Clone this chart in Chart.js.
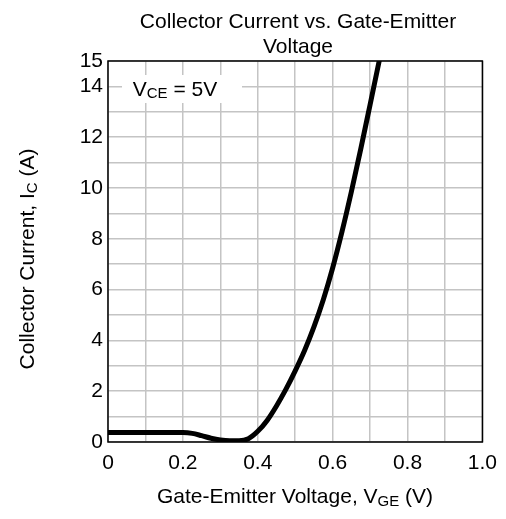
<!DOCTYPE html>
<html>
<head>
<meta charset="utf-8">
<script src="https://cdn.jsdelivr.net/npm/chart.js@4"></script>
<style>
  html, body { margin: 0; padding: 0; background: #fff; }
  #wrap { width: 506px; height: 519px; }
</style>
</head>
<body>
<div id="wrap"><canvas id="icChart" width="506" height="519"></canvas></div>
<script>
// gate-emitter voltage (V) and collector current (A)
const vge = [0, 0.05, 0.1, 0.15, 0.2, 0.225, 0.25, 0.275, 0.3, 0.325, 0.35, 0.375, 0.4, 0.425, 0.45, 0.475, 0.5, 0.525, 0.55, 0.575, 0.6, 0.625, 0.65, 0.675, 0.7, 0.725];
const ic  = [0.37, 0.37, 0.37, 0.37, 0.37, 0.34, 0.25, 0.15, 0.08, 0.05, 0.05, 0.13, 0.42, 0.85, 1.42, 2.07, 2.8, 3.6, 4.53, 5.6, 6.85, 8.28, 9.85, 11.53, 13.28, 15.05];
const xTickLabels = ['0', '0.2', '0.4', '0.6', '0.8', '1.0'];
const yTickLabels = ['0', '2', '4', '6', '8', '10', '12', '14', '15'];

const FONT = "'Liberation Sans', Arial, sans-serif";

// draws text made of [string, size, dy] pieces, centred on x
function drawParts(ctx, parts, x, y) {
  let total = 0;
  parts.forEach(p => { ctx.font = p[1] + 'px ' + FONT; total += ctx.measureText(p[0]).width; });
  let cx = x - total / 2;
  parts.forEach(p => {
    ctx.font = p[1] + 'px ' + FONT;
    ctx.fillText(p[0], cx, y + (p[2] || 0));
    cx += ctx.measureText(p[0]).width;
  });
}

const textPlugin = {
  id: 'textPlugin',
  afterDraw(chart) {
    const ctx = chart.ctx;
    const ca = chart.chartArea;
    ctx.save();
    ctx.fillStyle = '#000';
    ctx.textBaseline = 'alphabetic';
    ctx.textAlign = 'left';

    // title
    drawParts(ctx, [['Collector Current vs. Gate-Emitter', 21]], 298, 28);
    drawParts(ctx, [['Voltage', 21]], 298, 53);

    // x axis title
    drawParts(ctx, [['Gate-Emitter Voltage, V', 21], ['GE', 15, 3], [' (V)', 21]], 295, 503);

    // y axis title
    ctx.save();
    ctx.translate(34, 259);
    ctx.rotate(-Math.PI / 2);
    drawParts(ctx, [['Collector Current, I', 21], ['C', 15, 3], [' (A)', 21]], 0, 0);
    ctx.restore();

    // condition label
    ctx.fillStyle = '#fff';
    ctx.fillRect(ca.left + 14, ca.top + 14, 120, 28);
    ctx.fillStyle = '#000';
    drawParts(ctx, [['V', 21], ['CE', 15, 2], [' = 5V', 21]], ca.left + 67, ca.top + 35);

    // plot frame
    ctx.strokeStyle = '#000';
    ctx.lineWidth = 1.5;
    ctx.strokeRect(ca.left, ca.top, ca.right - ca.left, ca.bottom - ca.top);
    ctx.restore();
  }
};

const ctx = document.getElementById('icChart').getContext('2d');
new Chart(ctx, {
  type: 'line',
  data: {
    datasets: [{
      data: vge.map((v, i) => ({ x: v, y: ic[i] })),
      borderColor: '#000',
      borderWidth: 5,
      pointRadius: 0,
      fill: false,
      cubicInterpolationMode: 'monotone'
    }]
  },
  options: {
    responsive: false,
    animation: false,
    layout: { padding: { left: 0, right: 17, top: 61, bottom: 0 } },
    plugins: { legend: { display: false }, tooltip: { enabled: false }, title: { display: false } },
    scales: {
      x: {
        type: 'linear',
        min: 0,
        max: 1,
        afterFit(scale) { scale.height = 77; },
        grid: { color: '#c4c4c4', lineWidth: 1.5, drawTicks: false },
        border: { display: false },
        ticks: {
          stepSize: 0.1,
          padding: 9,
          color: '#000',
          font: { family: FONT, size: 21 },
          maxRotation: 0,
          autoSkip: false,
          callback(value) {
            const k = Math.round(value * 10);
            return k % 2 === 0 ? xTickLabels[k / 2] : '';
          }
        }
      },
      y: {
        min: 0,
        max: 15,
        afterFit(scale) { scale.width = 108; },
        grid: { color: '#c4c4c4', lineWidth: 1.5, drawTicks: false },
        border: { display: false },
        ticks: {
          stepSize: 1,
          padding: 5,
          color: '#000',
          font: { family: FONT, size: 21 },
          autoSkip: false,
          callback(value) {
            const s = String(Math.round(value));
            return yTickLabels.includes(s) ? s : '';
          }
        }
      }
    }
  },
  plugins: [textPlugin]
});
</script>
</body>
</html>
